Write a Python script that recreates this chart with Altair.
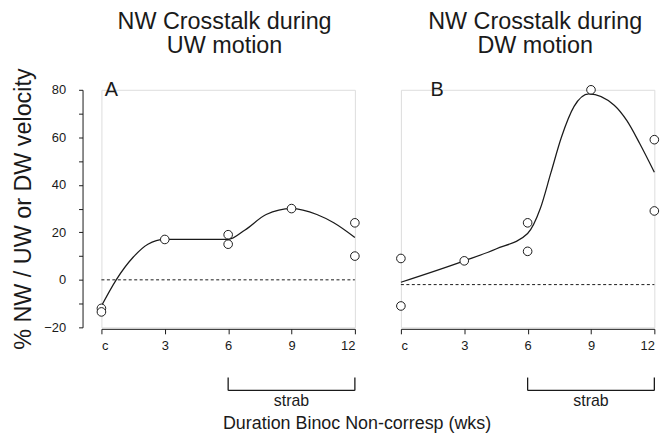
import altair as alt
import pandas as pd

# ---- data ----
tick_values = [0, 3, 6, 9, 12]
tick_labels = ["c", "3", "6", "9", "12"]

a_pts_x = [0, 0, 3, 6, 6, 9, 12, 12]
a_pts_y = [-12, -13.5, 17, 19, 15, 30, 24, 10]
a_fit_x = [0, 0.7, 1.5, 2.2, 3, 4.5, 6, 6.8, 7.8, 9, 10.2, 11, 12]
a_fit_y = [-11, 0, 9.5, 15, 17, 17, 17, 21, 27.5, 30, 27.5, 24, 17.8]
a_ref = 0

b_pts_x = [0, 0, 3, 6, 6, 9, 12, 12]
b_pts_y = [9, -11, 8, 24, 12, 80, 59, 29]
b_fit_x = [0, 3, 4.5, 6, 6.6, 7.1, 7.6, 8.2, 8.9, 10.1, 10.7, 11.3, 12]
b_fit_y = [-1, 8, 13, 19.5, 30, 45, 60, 73, 78.3, 73.5, 67, 57.5, 45.3]
b_ref = -2

strab_start, strab_end = 6, 12
strab_mid = 9

a_title = ["NW Crosstalk during", "UW motion"]
b_title = ["NW Crosstalk during", "DW motion"]
x_title = "Duration Binoc Non-corresp (wks)"
y_title = "% NW / UW or DW velocity"

FONT = "Liberation Sans"
INK = "#1a1a1a"
W, H = 255, 239

label_js = "[" + ",".join("'%s'" % t for t in tick_labels) + "][indexof([" + ",".join(str(v) for v in tick_values) + "], datum.value)]"

xs = alt.Scale(domain=[0, 12], nice=False, zero=False)
ys = alt.Scale(domain=[-20, 80], nice=False, zero=False)

xaxis = alt.Axis(values=tick_values, labelExpr=label_js, title=None, grid=False,
                 tickSize=5, offset=1.5, labelPadding=6, labelFontSize=13,
                 labelColor=INK, domainColor=INK, tickColor=INK, labelFont=FONT)


def panel(px, py, fx, fy, ref, letter, letter_x, title_lines, title_cx, show_y, extra=None):
    if show_y:
        yaxis = alt.Axis(values=list(range(-20, 81, 10)),
                         labelExpr="datum.value % 20 == 0 ? datum.label : ''",
                         grid=False, tickSize=4, offset=19, labelPadding=13,
                         labelFontSize=13, labelColor=INK, domainColor=INK,
                         tickColor=INK, labelFont=FONT,
                         title=y_title, titleFontSize=23.5,
                         titleFontWeight="normal", titleColor=INK, titleFont=FONT,
                         titlePadding=8)
    else:
        yaxis = None
    X = alt.X("x:Q", scale=xs, axis=xaxis)
    Y = alt.Y("y:Q", scale=ys, axis=yaxis)

    pts = pd.DataFrame({"x": px, "y": py})
    fit = pd.DataFrame({"x": fx, "y": fy})
    refdf = pd.DataFrame({"x": [tick_values[0]], "x2": [tick_values[-1]], "y": [ref]})
    br = pd.DataFrame({"x": [strab_start], "x2": [strab_end]})
    brv = pd.DataFrame({"x": [strab_start, strab_end]})
    st = pd.DataFrame({"x": [strab_mid], "t": ["strab"]})
    let = pd.DataFrame({"t": [letter]})
    t1 = pd.DataFrame({"t": [title_lines[0]]})
    t2 = pd.DataFrame({"t": [title_lines[1]]})

    refl = alt.Chart(refdf).mark_rule(color=INK, strokeWidth=1, strokeDash=[3, 2.5]).encode(
        x=X, x2="x2", y=Y)
    line = alt.Chart(fit).mark_line(color=INK, strokeWidth=1.25, interpolate="monotone").encode(
        x=X, y=Y)
    dots = alt.Chart(pts).mark_point(shape="circle", filled=False, fill="white", fillOpacity=1,
                                     stroke=INK, strokeWidth=1, size=75, opacity=1).encode(x=X, y=Y)
    brh = alt.Chart(br).mark_rule(color=INK, strokeWidth=1.3).encode(
        x=X, x2="x2", y=alt.value(302.5))
    brvl = alt.Chart(brv).mark_rule(color=INK, strokeWidth=1.3).encode(
        x=X, y=alt.value(289.5), y2=alt.value(302.5))
    stt = alt.Chart(st).mark_text(font=FONT, fontSize=16, color=INK, baseline="middle").encode(
        x=X, y=alt.value(313.5), text="t:N")
    lett = alt.Chart(let).mark_text(font=FONT, fontSize=20, color=INK, align="left",
                                    baseline="alphabetic").encode(
        x=alt.value(letter_x), y=alt.value(6.5), text="t:N")
    tl1 = alt.Chart(t1).mark_text(font=FONT, fontSize=23.5, color=INK, align="center",
                                  baseline="alphabetic").encode(
        x=alt.value(title_cx), y=alt.value(-61), text="t:N")
    tl2 = alt.Chart(t2).mark_text(font=FONT, fontSize=23.5, color=INK, align="center",
                                  baseline="alphabetic").encode(
        x=alt.value(title_cx), y=alt.value(-37), text="t:N")
    layers = [refl, line, dots, brh, brvl, stt, lett, tl1, tl2]
    if extra is not None:
        xt = pd.DataFrame({"t": [extra]})
        layers.append(alt.Chart(xt).mark_text(font=FONT, fontSize=18, color=INK, align="center",
                                              baseline="alphabetic").encode(
            x=alt.value(257.2), y=alt.value(341), text="t:N"))
    return alt.layer(*layers).properties(width=W, height=H)


pa = panel(a_pts_x, a_pts_y, a_fit_x, a_fit_y, a_ref, "A", 3.3, a_title, 123.9, True,
           extra=x_title)
pb = panel(b_pts_x, b_pts_y, b_fit_x, b_fit_y, b_ref, "B", 29.7, b_title, 135.1, False)

chart = alt.hconcat(pa, pb, spacing=46.3, bounds="flush").properties(
    padding={"left": 3, "top": 0, "right": 0, "bottom": 0},
).configure_view(stroke=None).configure(font=FONT, background="white")

chart.save("out.html", embed_options={"renderer": "svg", "actions": False})
